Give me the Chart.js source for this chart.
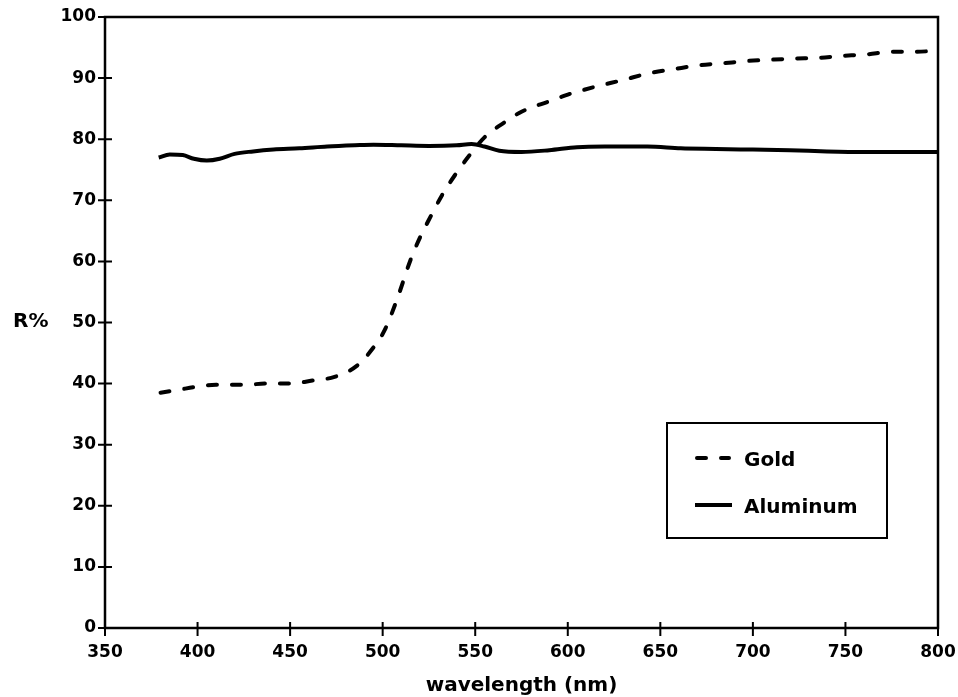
<!DOCTYPE html>
<html>
<head>
<meta charset="utf-8">
<script src="https://cdn.jsdelivr.net/npm/chart.js@4.4.1/dist/chart.umd.min.js"></script>
<style>
  html, body { margin: 0; padding: 0; background: #fff; }
  #wrap { width: 958px; height: 697px; position: relative; }
</style>
</head>
<body>
<div id="wrap"><canvas id="chart"></canvas></div>
<script>
// --- DATA ---
const xTicks = [350, 400, 450, 500, 550, 600, 650, 700, 750, 800];
const yTicks = [0, 10, 20, 30, 40, 50, 60, 70, 80, 90, 100];

const goldNm = [380, 390, 400, 410, 425, 437, 450, 462, 474, 486, 495, 501, 508, 515, 520, 526, 532, 539, 547, 555, 566, 575, 590, 600, 615, 630, 644, 658, 671, 683, 697, 709, 723, 735, 747, 762, 774, 787, 800];
const goldR  = [38.5, 39.0, 39.5, 39.8, 39.8, 40.0, 40.0, 40.5, 41.1, 42.9, 45.9, 48.7, 54.0, 60.2, 63.8, 67.4, 70.8, 74.1, 77.4, 80.3, 82.8, 84.5, 86.2, 87.3, 88.6, 89.7, 90.8, 91.5, 92.1, 92.4, 92.8, 93.0, 93.2, 93.3, 93.6, 93.9, 94.3, 94.3, 94.5];

const aluNm = [379, 385, 392, 398, 405, 412, 420, 430, 441, 455, 470, 485, 495, 510, 525, 540, 548, 555, 563, 575, 590, 605, 620, 643, 661, 680, 700, 720, 740, 760, 785, 800];
const aluR  = [77.0, 77.5, 77.4, 76.8, 76.5, 76.8, 77.6, 78.0, 78.3, 78.5, 78.8, 79.0, 79.1, 79.0, 78.9, 79.0, 79.2, 78.8, 78.1, 77.9, 78.2, 78.7, 78.8, 78.8, 78.5, 78.4, 78.3, 78.2, 78.0, 77.9, 77.9, 77.9];

const seriesNames = ['Gold', 'Aluminum'];
const FONT = 'DejaVu Sans';

function toPoints(xs, ys) { return xs.map((v, i) => ({ x: v, y: ys[i] })); }

// --- FRAME, TICKS, TITLES, LEGEND ---
const framePlugin = {
  id: 'frame',
  afterDraw(chart) {
    const { ctx, chartArea: a, scales: { x, y } } = chart;
    ctx.save();
    ctx.strokeStyle = '#000';
    ctx.lineWidth = 2.5;
    ctx.strokeRect(a.left, a.top, a.right - a.left, a.bottom - a.top);

    // ticks cross the axis lines
    ctx.lineWidth = 2;
    ctx.beginPath();
    yTicks.forEach(v => { const py = y.getPixelForValue(v); ctx.moveTo(a.left - 7, py); ctx.lineTo(a.left + 7, py); });
    xTicks.forEach(v => { const px = x.getPixelForValue(v); ctx.moveTo(px, a.bottom - 6); ctx.lineTo(px, a.bottom + 8); });
    ctx.stroke();

    ctx.fillStyle = '#000';
    ctx.font = 'bold 20px "' + FONT + '"';
    ctx.textBaseline = 'alphabetic';
    ctx.textAlign = 'left';
    ctx.fillText('R%', 13, 327);
    ctx.textAlign = 'center';
    ctx.fillText('wavelength (nm)', (a.left + a.right) / 2, 691);

    // legend box
    const lx = a.right - 271, ly = a.top + 406;
    ctx.lineWidth = 2;
    ctx.strokeRect(lx, ly, 220, 115);
    ctx.lineWidth = 4;
    ctx.lineCap = 'round';
    ctx.setLineDash([9, 15]);
    ctx.beginPath(); ctx.moveTo(lx + 30, ly + 35); ctx.lineTo(lx + 62, ly + 35); ctx.stroke();
    ctx.setLineDash([]);
    ctx.lineCap = 'butt';
    ctx.beginPath(); ctx.moveTo(lx + 28, ly + 82); ctx.lineTo(lx + 65, ly + 82); ctx.stroke();
    ctx.textAlign = 'left';
    ctx.fillText(seriesNames[0], lx + 77, ly + 43);
    ctx.fillText(seriesNames[1], lx + 77, ly + 90);
    ctx.restore();
  }
};

const tickFont = { family: FONT, weight: 'bold', size: 17 };

new Chart(document.getElementById('chart'), {
  type: 'line',
  data: {
    datasets: [
      { label: seriesNames[0], data: toPoints(goldNm, goldR), borderColor: '#000', borderWidth: 4,
        borderDash: [9, 15], borderCapStyle: 'round', cubicInterpolationMode: 'monotone', pointRadius: 0, fill: false },
      { label: seriesNames[1], data: toPoints(aluNm, aluR), borderColor: '#000', borderWidth: 4,
        cubicInterpolationMode: 'monotone', pointRadius: 0, fill: false }
    ]
  },
  options: {
    responsive: true,
    maintainAspectRatio: false,
    animation: false,
    layout: { padding: { top: 17, right: 20, left: 0, bottom: 0 } },
    plugins: { legend: { display: false }, tooltip: { enabled: false } },
    scales: {
      x: {
        type: 'linear', min: 350, max: 800,
        afterFit(s) { s.height = 69; s.paddingLeft = 0; s.paddingRight = 0; },
        afterBuildTicks(s) { s.ticks = xTicks.map(v => ({ value: v })); },
        grid: { display: false, drawTicks: false },
        border: { display: false },
        ticks: { color: '#000', font: tickFont, padding: 14, maxRotation: 0, autoSkip: false }
      },
      y: {
        type: 'linear', min: 0, max: 100,
        afterFit(s) { s.width = 105; s.paddingTop = 0; s.paddingBottom = 0; },
        afterBuildTicks(s) { s.ticks = yTicks.map(v => ({ value: v })); },
        grid: { display: false, drawTicks: false },
        border: { display: false },
        ticks: { color: '#000', font: tickFont, padding: 9, autoSkip: false }
      }
    }
  },
  plugins: [framePlugin]
});
</script>
</body>
</html>
